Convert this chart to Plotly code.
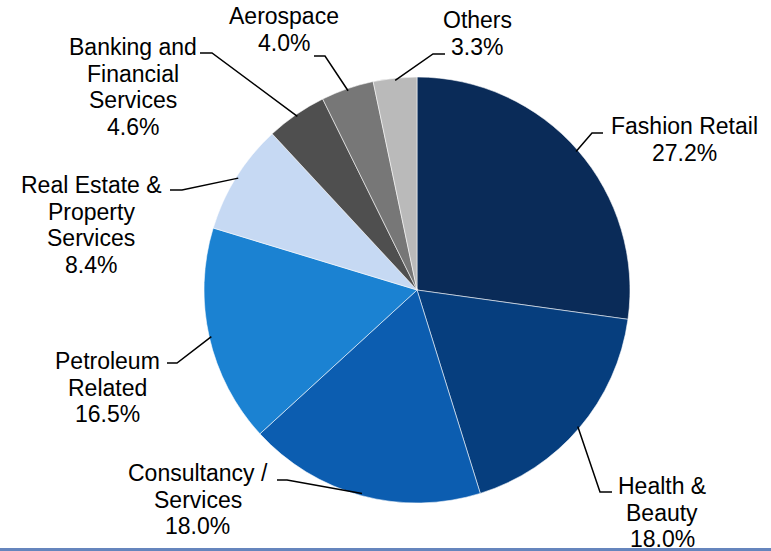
import math
import plotly.graph_objects as go

# Sector shares (%)
sectors = [
    "Fashion Retail",
    "Health & Beauty",
    "Consultancy / Services",
    "Petroleum Related",
    "Real Estate & Property Services",
    "Banking and Financial Services",
    "Aerospace",
    "Others",
]
shares = [27.2, 18.0, 18.0, 16.5, 8.4, 4.6, 4.0, 3.3]

# How each sector name is broken over lines in its callout
name_lines = [
    ["Fashion Retail"],
    ["Health &", "Beauty"],
    ["Consultancy /", "Services"],
    ["Petroleum", "Related"],
    ["Real Estate &", "Property", "Services"],
    ["Banking and", "Financial", "Services"],
    ["Aerospace"],
    ["Others"],
]

colors = ["#0a2b58", "#063e7e", "#0c5db0", "#1b82d2",
          "#c6d9f3", "#4f4f4f", "#777777", "#bababa"]

# ---- layout (pixels in a 771 x 551 page) ----
W, H = 771, 551
CX, CY, R = 417, 290, 213          # pie centre and radius
LINE_GAP = 26.7                    # spacing between callout text lines
FONT = "Arial, Liberation Sans, sans-serif"
FONT_SIZE = 23

# callout text: centre x, centre y of first line
text_pos = [(684, 126), (662, 486), (198, 473), (107, 361),
            (91, 185), (133, 47), (284, 16), (477, 20)]
# leader: elbow point and tail end (the tail sits next to the text)
elbows = [(592, 133), (600, 492), (287, 480), (177, 363),
          (182, 190), (212, 53), (325, 56), (433, 54)]
tails = [(603, 133), (612, 492), (277, 480), (167, 363),
         (170, 190), (200, 53), (314, 56), (445, 54)]


def px(x):
    return x / W


def py(y):
    return 1 - y / H


fig = go.Figure(go.Pie(
    labels=sectors,
    values=shares,
    sort=False,
    direction="clockwise",
    rotation=0,
    marker=dict(colors=colors, line=dict(color="rgba(255,255,255,0.55)", width=1)),
    textinfo="none",
    hoverinfo="label+percent",
    showlegend=False,
    domain=dict(x=[px(CX - R), px(CX + R)], y=[py(CY + R), py(CY - R)]),
))

shapes = []
annotations = []
total = sum(shares)
cum = 0.0
for i, v in enumerate(shares):
    mid = cum + v / 2
    cum += v
    theta = math.radians(90 - mid / total * 360)
    ex = CX + 0.99 * R * math.cos(theta)
    ey = CY - 0.99 * R * math.sin(theta)
    (bx, by), (tx, ty) = elbows[i], tails[i]
    shapes.append(dict(
        type="path", xref="paper", yref="paper",
        path=f"M {px(ex)} {py(ey)} L {px(bx)} {py(by)} L {px(tx)} {py(ty)}",
        line=dict(color="#000000", width=1.5),
    ))
    lines = name_lines[i] + [f"{v:.1f}%"]
    x0, y0 = text_pos[i]
    for k, t in enumerate(lines):
        annotations.append(dict(
            x=px(x0), y=py(y0 + k * LINE_GAP), xref="paper", yref="paper",
            text=t, showarrow=False, xanchor="center", yanchor="middle",
            font=dict(family=FONT, size=FONT_SIZE, color="#000000"),
        ))

# rule along the bottom edge
shapes.append(dict(type="rect", xref="paper", yref="paper",
                   x0=0, x1=1, y0=0, y1=py(548),
                   fillcolor="#6585bd", line=dict(width=0)))

fig.update_layout(
    width=W, height=H,
    margin=dict(l=0, r=0, t=0, b=0),
    paper_bgcolor="white",
    plot_bgcolor="white",
    shapes=shapes,
    annotations=annotations,
)

fig.write_html("out.html")
